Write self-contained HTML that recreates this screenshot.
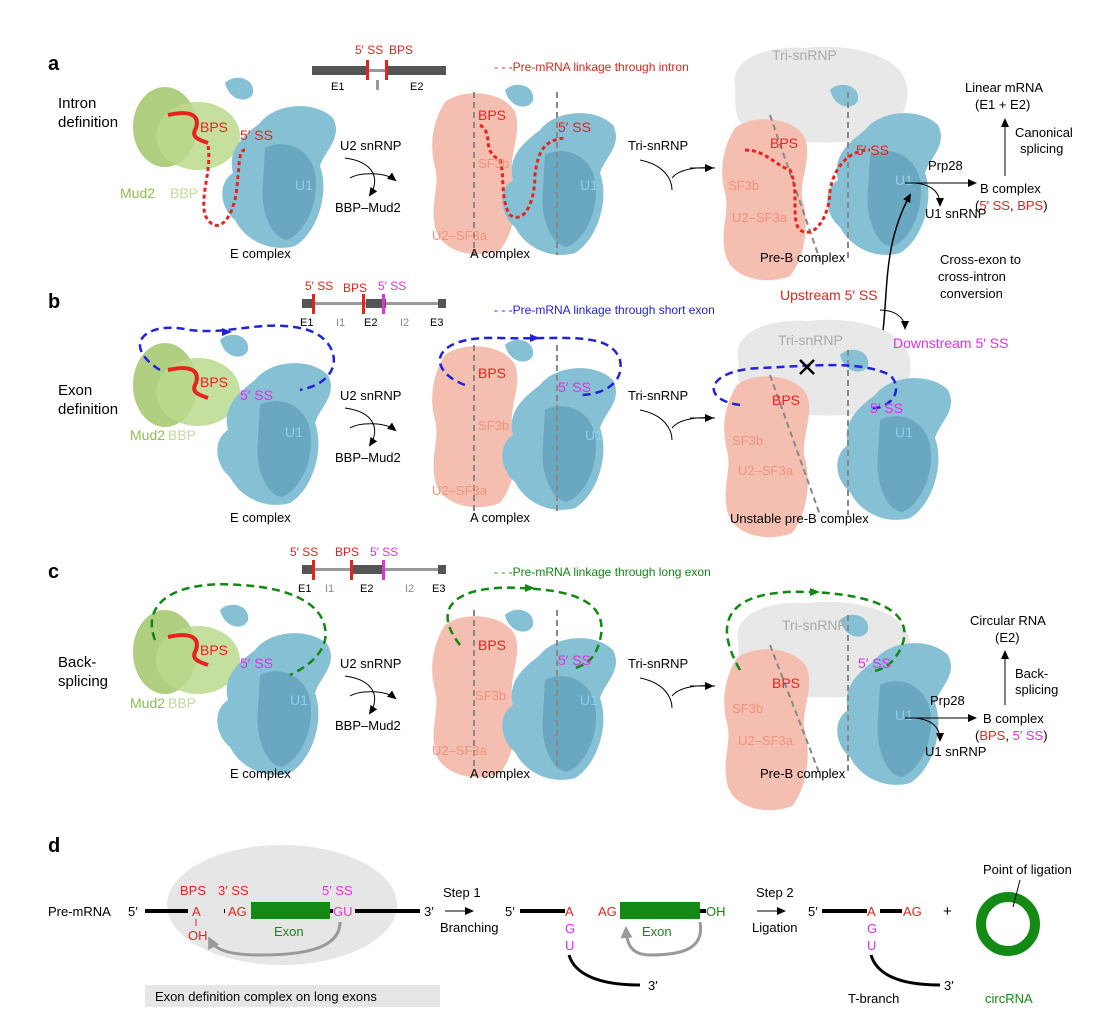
<!DOCTYPE html>
<html><head><meta charset="utf-8"><style>
body{margin:0;background:#fff}
svg{display:block;font-family:"Liberation Sans",Arial,sans-serif}
.r{fill:#e8231e}.m{fill:#e62ee6}.g{fill:#7cb342}.lg{fill:#b5d68a}.bl{fill:#7fc4e0}.sa{fill:#f0937c}.gy{fill:#aaa}
</style></head><body>
<svg width="1116" height="1027" viewBox="0 0 1116 1027" xmlns="http://www.w3.org/2000/svg">
<defs>
<g id="blue">
 <path d="M45,35 C60,15 100,12 118,30 C128,50 110,62 105,78 C115,105 102,145 80,158 C55,165 30,152 20,132 C5,120 2,95 18,85 C12,62 28,48 45,35Z" fill="#86c0d5"/>
 <path d="M50,60 C70,50 95,60 100,85 C105,115 90,145 72,152 C55,150 45,120 48,95Z" fill="#5e9db6" opacity=".7"/>
 <path d="M10,-5 C20,-15 40,-10 38,5 C35,15 15,15 10,-5Z" fill="#86c0d5"/>
</g>
<g id="salmon">
 <path d="M15,10 C35,-5 75,0 85,20 C92,40 80,60 82,80 C90,105 85,140 70,158 C45,168 10,160 5,135 C0,110 10,95 5,75 C-2,50 5,25 15,10Z" fill="#f4bfb1"/>
</g>
<g id="gray">
 <path d="M10,40 C5,15 40,0 80,3 C120,-2 170,8 180,35 C190,60 170,90 140,95 C100,100 50,98 25,85 C5,75 12,55 10,40Z" fill="#e8e8e8"/>
</g>
<marker id="ah" markerUnits="userSpaceOnUse" markerWidth="9" markerHeight="8" refX="7" refY="4" orient="auto"><path d="M0,0 L9,4 L0,8Z" fill="#000"/></marker>
<marker id="ahg" markerUnits="userSpaceOnUse" markerWidth="12" markerHeight="12" refX="8" refY="6" orient="auto"><path d="M0,0 L12,6 L0,12Z" fill="#999"/></marker>
</defs>
<g font-size="13">
<!-- ===== Panel a ===== -->
<text x="48" y="70" font-size="20" font-weight="bold">a</text>
<rect x="312" y="66" width="56" height="9" fill="#555"/><rect x="386" y="66" width="60" height="9" fill="#555"/><rect x="368" y="69" width="18" height="3" fill="#999"/>
<rect x="366" y="60" width="3" height="20" fill="#e8231e"/><rect x="385" y="60" width="3" height="20" fill="#e8231e"/><rect x="376" y="80" width="3" height="10" fill="#999"/>
<text x="355" y="54" class="r" font-size="12">5′ SS</text><text x="389" y="54" class="r" font-size="12">BPS</text>
<text x="331" y="90" font-size="11">E1</text><text x="410" y="90" font-size="11">E2</text>
<text x="494" y="71" class="r" font-size="12">- - -Pre-mRNA linkage through intron</text>
<text x="58" y="108" font-size="15">Intron</text><text x="58" y="127" font-size="15">definition</text>
<ellipse cx="165" cy="127" rx="32" ry="40" fill="#a2c66a" opacity=".85"/><ellipse cx="198" cy="136" rx="42" ry="34" fill="#bbd98d" opacity=".85"/>
<use href="#blue" x="215" y="88"/>
<path d="M168,115 C190,110 200,115 196,128 C190,138 200,140 208,143" stroke="#e8231e" stroke-width="4" fill="none"/>
<path d="M208,146 C212,170 200,195 205,215 C215,235 230,225 236,195 C240,165 238,150 245,150" stroke="#e8231e" stroke-width="3" stroke-dasharray="4,3" fill="none"/>
<text x="200" y="132" class="r" font-size="14">BPS</text><text x="240" y="140" class="r" font-size="14">5′ SS</text>
<text x="120" y="198" fill="#8fbf4e" font-size="14">Mud2</text><text x="170" y="198" fill="#c1dc9a" font-size="14">BBP</text>
<text x="295" y="190" fill="#8cd0ec" font-size="14">U1</text><text x="230" y="258">E complex</text>
<text x="340" y="150">U2 snRNP</text><path d="M345,158 C375,162 380,180 370,195" stroke="#000" fill="none" marker-end="url(#ah)"/><path d="M350,178 C360,172 385,172 395,180" stroke="#000" fill="none" marker-end="url(#ah)"/><text x="335" y="212">BBP–Mud2</text>
<use href="#salmon" x="430" y="92"/><use href="#blue" x="495" y="95"/>
<line x1="474" y1="92" x2="474" y2="255" stroke="#888" stroke-width="2" stroke-dasharray="6,4"/><line x1="557" y1="92" x2="557" y2="255" stroke="#888" stroke-width="2" stroke-dasharray="6,4"/>
<path d="M480,125 C495,135 480,150 500,160 C505,175 500,200 510,215 C525,225 535,200 535,175 C538,150 545,140 565,138" stroke="#e8231e" stroke-width="3" stroke-dasharray="4,3" fill="none"/>
<text x="478" y="120" class="r" font-size="14">BPS</text><text x="558" y="132" class="r" font-size="14">5′ SS</text><text x="478" y="168" class="sa" font-size="13">SF3b</text><text x="432" y="240" class="sa" font-size="13">U2–SF3a</text><text x="580" y="190" fill="#8cd0ec" font-size="14">U1</text>
<text x="470" y="258">A complex</text>
<text x="628" y="150">Tri-snRNP</text><path d="M640,160 C665,165 672,180 672,190 M672,178 C680,168 700,167 715,168" stroke="#000" fill="none"/><path d="M690,168 L712,168" stroke="#000" marker-end="url(#ah)"/>
<use href="#gray" x="725" y="45"/><use href="#salmon" x="720" y="118"/><use href="#blue" x="820" y="95"/>
<line x1="770" y1="115" x2="820" y2="260" stroke="#888" stroke-width="2" stroke-dasharray="6,4"/><line x1="848" y1="92" x2="848" y2="260" stroke="#888" stroke-width="2" stroke-dasharray="6,4"/>
<path d="M745,150 C765,150 775,165 790,170 C800,190 790,220 800,230 C815,240 830,215 830,190 C835,165 850,150 870,150" stroke="#e8231e" stroke-width="3" stroke-dasharray="4,3" fill="none"/>
<text x="772" y="60" fill="#aaa" font-size="14">Tri-snRNP</text><text x="770" y="148" class="r" font-size="14">BPS</text><text x="856" y="155" class="r" font-size="14">5′ SS</text><text x="728" y="190" class="sa">SF3b</text><text x="732" y="222" class="sa">U2–SF3a</text><text x="895" y="185" fill="#8cd0ec" font-size="14">U1</text>
<text x="760" y="262">Pre-B complex</text>
<text x="965" y="92">Linear mRNA</text><text x="975" y="109">(E1 + E2)</text>
<line x1="1005" y1="176" x2="1005" y2="120" stroke="#000" marker-end="url(#ah)"/><text x="1015" y="137">Canonical</text><text x="1020" y="153">splicing</text>
<text x="928" y="170">Prp28</text><path d="M905,183 L975,183" stroke="#000" marker-end="url(#ah)"/><path d="M915,183 C935,185 940,195 940,205" stroke="#000" fill="none" marker-end="url(#ah)"/>
<text x="980" y="193">B complex</text><text x="975" y="210">(<tspan class="r">5′ SS</tspan>, <tspan class="r">BPS</tspan>)</text><text x="925" y="218">U1 snRNP</text>
<path d="M880,350 C890,300 880,250 910,195" stroke="#000" stroke-width="1.5" fill="none" marker-end="url(#ah)"/>
<text x="940" y="264">Cross-exon to</text><text x="938" y="281">cross-intron</text><text x="940" y="298">conversion</text>
<text x="780" y="300" class="r" font-size="14">Upstream 5′ SS</text><path d="M880,310 C895,310 905,318 905,328" stroke="#000" fill="none" marker-end="url(#ah)"/>
<!-- ===== Panel b ===== -->
<text x="48" y="308" font-size="20" font-weight="bold">b</text>
<rect x="305" y="302" width="140" height="3" fill="#999"/><rect x="302" y="299" width="10" height="9" fill="#555"/><rect x="366" y="299" width="20" height="9" fill="#555"/><rect x="438" y="299" width="8" height="9" fill="#555"/>
<rect x="312" y="294" width="3" height="20" fill="#e8231e"/><rect x="362" y="294" width="3" height="20" fill="#e8231e"/><rect x="382" y="294" width="3" height="20" fill="#e62ee6"/>
<text x="305" y="290" class="r" font-size="12">5′ SS</text><text x="343" y="292" class="r" font-size="12">BPS</text><text x="378" y="290" class="m" font-size="12">5′ SS</text>
<text x="300" y="326" font-size="11">E1</text><text x="336" y="326" font-size="11" fill="#888">I1</text><text x="364" y="326" font-size="11">E2</text><text x="400" y="326" font-size="11" fill="#888">I2</text><text x="430" y="326" font-size="11">E3</text>
<text x="494" y="314" fill="#2222dd" font-size="12">- - -Pre-mRNA linkage through short exon</text>
<text x="58" y="395" font-size="15">Exon</text><text x="58" y="414" font-size="15">definition</text>
<ellipse cx="165" cy="385" rx="32" ry="42" fill="#a2c66a" opacity=".85"/><ellipse cx="198" cy="392" rx="42" ry="34" fill="#bbd98d" opacity=".85"/>
<use href="#blue" x="210" y="345"/>
<path d="M168,370 C190,365 200,370 196,383 C190,393 200,395 208,398" stroke="#e8231e" stroke-width="4" fill="none"/>
<path d="M160,370 C120,345 145,320 190,330 C230,335 260,320 300,328 C340,335 350,380 300,390" stroke="#2222dd" stroke-width="2.5" stroke-dasharray="8,5" fill="none"/><path d="M222,328 l10,4 l-10,4z" fill="#2222dd"/>
<text x="200" y="387" class="r" font-size="14">BPS</text><text x="240" y="400" class="m" font-size="14">5′ SS</text>
<text x="130" y="440" fill="#8fbf4e" font-size="14">Mud2</text><text x="168" y="440" fill="#c1dc9a" font-size="14">BBP</text>
<text x="285" y="437" fill="#8cd0ec" font-size="14">U1</text><text x="230" y="522">E complex</text>
<text x="340" y="400">U2 snRNP</text><path d="M345,408 C375,412 380,430 370,445" stroke="#000" fill="none" marker-end="url(#ah)"/><path d="M350,428 C360,422 385,422 395,430" stroke="#000" fill="none" marker-end="url(#ah)"/><text x="335" y="462">BBP–Mud2</text>
<use href="#salmon" x="430" y="345"/><use href="#blue" x="495" y="350"/>
<line x1="474" y1="345" x2="474" y2="515" stroke="#888" stroke-width="2" stroke-dasharray="6,4"/><line x1="557" y1="345" x2="557" y2="515" stroke="#888" stroke-width="2" stroke-dasharray="6,4"/>
<path d="M465,385 C425,370 430,335 500,338 C560,340 610,330 620,360 C625,385 600,395 580,395" stroke="#2222dd" stroke-width="2.5" stroke-dasharray="8,5" fill="none"/><path d="M530,334 l10,4 l-10,4z" fill="#2222dd"/>
<text x="478" y="378" class="r" font-size="14">BPS</text><text x="558" y="392" class="m" font-size="14">5′ SS</text><text x="478" y="430" class="sa">SF3b</text><text x="432" y="495" class="sa">U2–SF3a</text><text x="585" y="440" fill="#8cd0ec" font-size="14">U1</text>
<text x="470" y="522">A complex</text>
<text x="628" y="400">Tri-snRNP</text><path d="M640,410 C665,415 672,430 672,440 M672,428 C680,418 700,417 715,418" stroke="#000" fill="none"/><path d="M690,418 L712,418" stroke="#000" marker-end="url(#ah)"/>
<use href="#gray" x="728" y="318"/><use href="#salmon" x="722" y="375"/><use href="#blue" x="830" y="360"/>
<line x1="770" y1="375" x2="820" y2="515" stroke="#888" stroke-width="2" stroke-dasharray="6,4"/><line x1="848" y1="350" x2="848" y2="515" stroke="#888" stroke-width="2" stroke-dasharray="6,4"/>
<path d="M740,405 C700,400 705,370 760,368 C810,366 860,360 890,375 C905,390 890,410 870,408" stroke="#2222dd" stroke-width="2.5" stroke-dasharray="8,5" fill="none"/>
<path d="M800,360 l14,14 M814,360 l-14,14" stroke="#000" stroke-width="2.5"/>
<text x="778" y="345" fill="#aaa" font-size="14">Tri-snRNP</text><text x="772" y="405" class="r" font-size="14">BPS</text><text x="870" y="413" class="m" font-size="14">5′ SS</text><text x="732" y="445" class="sa">SF3b</text><text x="738" y="475" class="sa">U2–SF3a</text><text x="895" y="437" fill="#8cd0ec" font-size="14">U1</text>
<text x="730" y="523">Unstable pre-B complex</text>
<text x="893" y="348" class="m" font-size="14">Downstream 5′ SS</text>
<!-- ===== Panel c ===== -->
<text x="48" y="578" font-size="20" font-weight="bold">c</text>
<rect x="305" y="568" width="140" height="3" fill="#999"/><rect x="302" y="565" width="10" height="9" fill="#555"/><rect x="352" y="565" width="30" height="9" fill="#555"/><rect x="438" y="565" width="8" height="9" fill="#555"/>
<rect x="312" y="560" width="3" height="20" fill="#e8231e"/><rect x="350" y="560" width="3" height="20" fill="#e8231e"/><rect x="382" y="560" width="3" height="20" fill="#e62ee6"/>
<text x="290" y="556" class="r" font-size="12">5′ SS</text><text x="335" y="556" class="r" font-size="12">BPS</text><text x="370" y="556" class="m" font-size="12">5′ SS</text>
<text x="298" y="592" font-size="11">E1</text><text x="325" y="592" font-size="11" fill="#888">I1</text><text x="360" y="592" font-size="11">E2</text><text x="405" y="592" font-size="11" fill="#888">I2</text><text x="432" y="592" font-size="11">E3</text>
<text x="494" y="576" fill="#118811" font-size="12">- - -Pre-mRNA linkage through long exon</text>
<text x="58" y="667" font-size="15">Back-</text><text x="58" y="686" font-size="15">splicing</text>
<ellipse cx="165" cy="652" rx="32" ry="42" fill="#a2c66a" opacity=".85"/><ellipse cx="198" cy="660" rx="42" ry="34" fill="#bbd98d" opacity=".85"/>
<use href="#blue" x="210" y="615"/>
<path d="M168,637 C190,632 200,637 196,650 C190,660 200,662 208,665" stroke="#e8231e" stroke-width="4" fill="none"/>
<path d="M155,640 C140,600 180,580 240,585 C300,588 330,610 325,640 C320,660 300,670 290,675" stroke="#118811" stroke-width="2.5" stroke-dasharray="8,5" fill="none"/>
<text x="200" y="655" class="r" font-size="14">BPS</text><text x="240" y="668" class="m" font-size="14">5′ SS</text>
<text x="130" y="708" fill="#8fbf4e" font-size="14">Mud2</text><text x="168" y="708" fill="#c1dc9a" font-size="14">BBP</text>
<text x="290" y="705" fill="#8cd0ec" font-size="14">U1</text><text x="230" y="778">E complex</text>
<text x="340" y="668">U2 snRNP</text><path d="M345,676 C375,680 380,698 370,713" stroke="#000" fill="none" marker-end="url(#ah)"/><path d="M350,696 C360,690 385,690 395,698" stroke="#000" fill="none" marker-end="url(#ah)"/><text x="335" y="730">BBP–Mud2</text>
<use href="#salmon" x="430" y="615"/><use href="#blue" x="495" y="620"/>
<line x1="474" y1="610" x2="474" y2="770" stroke="#888" stroke-width="2" stroke-dasharray="6,4"/><line x1="557" y1="610" x2="557" y2="770" stroke="#888" stroke-width="2" stroke-dasharray="6,4"/>
<path d="M460,645 C425,600 470,585 520,588 C570,590 610,600 600,640 C595,660 585,665 575,668" stroke="#118811" stroke-width="2.5" stroke-dasharray="8,5" fill="none"/><path d="M525,584 l10,4 l-10,4z" fill="#118811"/>
<text x="478" y="650" class="r" font-size="14">BPS</text><text x="558" y="665" class="m" font-size="14">5′ SS</text><text x="475" y="700" class="sa">SF3b</text><text x="432" y="755" class="sa">U2–SF3a</text><text x="580" y="705" fill="#8cd0ec" font-size="14">U1</text>
<text x="470" y="778">A complex</text>
<text x="628" y="668">Tri-snRNP</text><path d="M640,678 C665,683 672,698 672,708 M672,696 C680,686 700,685 715,686" stroke="#000" fill="none"/><path d="M690,686 L712,686" stroke="#000" marker-end="url(#ah)"/>
<use href="#gray" x="728" y="600"/><use href="#salmon" x="722" y="648"/><use href="#blue" x="830" y="625"/>
<line x1="770" y1="645" x2="820" y2="775" stroke="#888" stroke-width="2" stroke-dasharray="6,4"/><line x1="848" y1="615" x2="848" y2="775" stroke="#888" stroke-width="2" stroke-dasharray="6,4"/>
<path d="M740,670 C700,600 760,590 810,592 C870,594 920,610 900,650 C890,668 880,670 870,672" stroke="#118811" stroke-width="2.5" stroke-dasharray="8,5" fill="none"/><path d="M810,588 l10,4 l-10,4z" fill="#118811"/>
<text x="782" y="630" fill="#aaa" font-size="14">Tri-snRNP</text><text x="772" y="688" class="r" font-size="14">BPS</text><text x="858" y="668" class="m" font-size="14">5′ SS</text><text x="732" y="713" class="sa">SF3b</text><text x="738" y="745" class="sa">U2–SF3a</text><text x="895" y="720" fill="#8cd0ec" font-size="14">U1</text>
<text x="760" y="778">Pre-B complex</text>
<text x="970" y="625">Circular RNA</text><text x="995" y="642">(E2)</text>
<line x1="1005" y1="705" x2="1005" y2="652" stroke="#000" marker-end="url(#ah)"/><text x="1015" y="678">Back-</text><text x="1015" y="694">splicing</text>
<text x="930" y="705">Prp28</text><path d="M905,718 L975,718" stroke="#000" marker-end="url(#ah)"/><path d="M915,718 C935,720 940,730 940,740" stroke="#000" fill="none" marker-end="url(#ah)"/>
<text x="983" y="723">B complex</text><text x="975" y="740">(<tspan class="r">BPS</tspan>, <tspan class="m">5′ SS</tspan>)</text><text x="925" y="756">U1 snRNP</text>
<!-- ===== Panel d ===== -->
<text x="48" y="852" font-size="20" font-weight="bold">d</text>
<ellipse cx="282" cy="905" rx="115" ry="60" fill="#e6e6e6"/>
<text x="48" y="916">Pre-mRNA</text><text x="128" y="916">5′</text>
<rect x="145" y="909" width="105" height="4" fill="#000"/><rect x="250" y="902" width="80" height="17" fill="#138a13"/><rect x="330" y="909" width="90" height="4" fill="#000"/><text x="424" y="916">3′</text>
<rect x="188" y="899" width="36" height="26" fill="#e6e6e6"/><rect x="225" y="899" width="26" height="22" fill="#e6e6e6"/><rect x="333" y="899" width="22" height="22" fill="#e6e6e6"/>
<text x="180" y="895" class="r">BPS</text><text x="218" y="895" class="r">3′ SS</text><text x="322" y="895" class="m">5′ SS</text>
<text x="192" y="916" class="r">A</text><text x="228" y="916" class="r">AG</text><text x="333" y="916" class="m">GU</text>
<line x1="196" y1="919" x2="196" y2="926" stroke="#e8231e"/><text x="188" y="940" class="r">OH</text><text x="274" y="936" fill="#138a13">Exon</text>
<path d="M340,922 C340,950 300,955 260,955 C230,955 215,950 210,940" stroke="#999" stroke-width="3" fill="none" marker-end="url(#ahg)"/>
<rect x="145" y="985" width="295" height="22" fill="#e6e6e6"/><text x="155" y="1001">Exon definition complex on long exons</text>
<text x="443" y="897">Step 1</text><line x1="445" y1="911" x2="472" y2="911" stroke="#000" marker-end="url(#ah)"/><text x="440" y="932">Branching</text>
<text x="505" y="916">5′</text><rect x="520" y="909" width="45" height="4" fill="#000"/><text x="565" y="916" class="r">A</text><text x="598" y="916" class="r">AG</text>
<rect x="620" y="902" width="80" height="17" fill="#138a13"/><rect x="700" y="909" width="6" height="4" fill="#000"/><text x="706" y="916" fill="#138a13">OH</text>
<text x="565" y="933" class="m">G</text><text x="565" y="950" class="m">U</text><text x="642" y="936" fill="#138a13">Exon</text>
<path d="M569,955 C575,975 600,985 640,985" stroke="#000" stroke-width="3" fill="none"/><text x="648" y="990">3′</text>
<path d="M700,922 C705,950 680,955 650,955 C632,955 627,945 626,930" stroke="#999" stroke-width="3" fill="none" marker-end="url(#ahg)"/>
<text x="756" y="897">Step 2</text><line x1="757" y1="911" x2="784" y2="911" stroke="#000" marker-end="url(#ah)"/><text x="752" y="932">Ligation</text>
<text x="808" y="916">5′</text><rect x="822" y="909" width="45" height="4" fill="#000"/><text x="867" y="916" class="r">A</text><rect x="880" y="909" width="22" height="4" fill="#000"/><text x="903" y="916" class="r">AG</text>
<text x="867" y="933" class="m">G</text><text x="867" y="950" class="m">U</text>
<path d="M871,955 C877,975 900,985 940,985" stroke="#000" stroke-width="3" fill="none"/><text x="944" y="990">3′</text><text x="848" y="1003">T-branch</text>
<text x="943" y="916" font-size="15">+</text>
<circle cx="1008" cy="924" r="27" fill="none" stroke="#138a13" stroke-width="10"/>
<line x1="1020" y1="880" x2="1013" y2="907" stroke="#000"/><text x="983" y="874">Point of ligation</text>
<text x="985" y="1003" fill="#138a13">circRNA</text>
</g>
</svg>
</body></html>
